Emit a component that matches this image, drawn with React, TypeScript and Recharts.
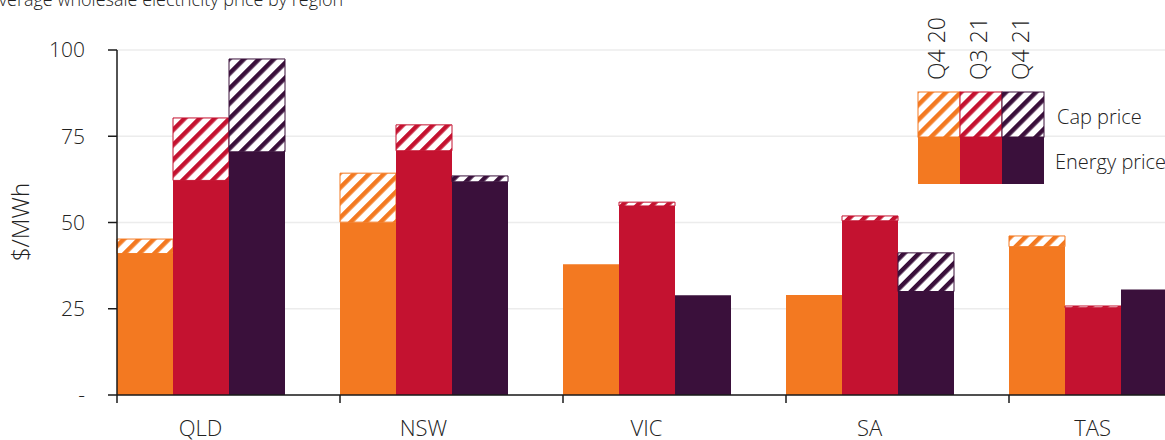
import React from 'react';
import { BarChart, Bar, XAxis, YAxis, CartesianGrid, Legend } from 'recharts';

const regions = ['QLD', 'NSW', 'VIC', 'SA', 'TAS'];
const periods = ['Q4 20', 'Q3 21', 'Q4 21'];
const energyQ420 = [41, 50.1, 37.9, 29, 43];
const capQ420 = [4.2, 14.2, 0, 0, 3.1];
const energyQ321 = [62.2, 70.8, 54.8, 50.5, 25.3];
const capQ321 = [18.1, 7.5, 1.1, 1.4, 0.5];
const energyQ421 = [70.5, 61.8, 28.9, 30, 30.6];
const capQ421 = [26.9, 1.7, 0, 11.2, 0];
const yTicks = [0, 25, 50, 75, 100];
const legendLabels = ['Cap price', 'Energy price'];
const title = 'Average wholesale electricity price by region';
const yTitle = '$/MWh';

const colors = ['#F37921', '#C41230', '#3A103B'];
const font = "'Open Sans', sans-serif";
const weight = 300;
const textColor = '#222';

const energy = [energyQ420, energyQ321, energyQ421];
const cap = [capQ420, capQ321, capQ421];

const data = regions.map((region, i) => {
  const row: Record<string, number | string> = { region };
  periods.forEach((_, k) => {
    row[`e${k}`] = energy[k][i];
    row[`c${k}`] = cap[k][i];
  });
  return row;
});

// tick mark sits at the left edge of each bar group, label in the middle
const XTick = (props: any) => {
  const { x, y, payload } = props;
  const tx = x - 83.5;
  return (
    <g>
      <line x1={tx} x2={tx} y1={y} y2={y + 8} stroke="#1a1a1a" strokeWidth={1.5} />
      <text x={x} y={y + 41} textAnchor="middle" fontSize={22} fontWeight={weight} fill={textColor} fontFamily={font}>
        {payload.value}
      </text>
    </g>
  );
};

const LegendBox = () => (
  <svg width={265} height={200}>
    {periods.map((p, k) => {
      const x = 18 + k * 42;
      return (
        <g key={p}>
          <rect x={x} y={92} width={42} height={45} fill={`url(#hatch${k})`} stroke={colors[k]} strokeWidth={1} />
          <rect x={x} y={137} width={42} height={47} fill={colors[k]} />
          <text
            x={x + 19}
            y={80}
            dy="0.35em"
            transform={`rotate(-90 ${x + 19} 80)`}
            fontSize={23}
            fontWeight={weight}
            fill={textColor}
            fontFamily={font}
          >
            {p}
          </text>
        </g>
      );
    })}
    <text x={157} y={117} dy="0.35em" fontSize={20} fontWeight={weight} fill={textColor} fontFamily={font}>{legendLabels[0]}</text>
    <text x={155} y={162} dy="0.35em" fontSize={20} fontWeight={weight} fill={textColor} fontFamily={font}>{legendLabels[1]}</text>
  </svg>
);

export default function App() {
  return (
    <div style={{ position: 'absolute', left: 0, top: 0, width: 1165, height: 440, overflow: 'hidden', background: '#fff' }}>
      <svg width={0} height={0} style={{ position: 'absolute' }}>
        <defs>
          {colors.map((c, k) => (
            <pattern key={c} id={`hatch${k}`} patternUnits="userSpaceOnUse" width={10.6} height={10.6} patternTransform="rotate(45)">
              <rect x={0} y={0} width={10.6} height={10.6} fill="#fff" />
              <rect x={0} y={0} width={4.5} height={10.6} fill={c} />
            </pattern>
          ))}
        </defs>
      </svg>
      <BarChart
        width={1210}
        height={440}
        data={data}
        margin={{ top: 50, right: 6, bottom: 0, left: 37 }}
        barCategoryGap={28}
        barGap={0}
      >
        <CartesianGrid vertical={false} stroke="#ececec" strokeWidth={1.5} />
        <XAxis
          dataKey="region"
          height={45}
          padding={{ left: -28, right: 0 }}
          tickLine={false}
          tickSize={0}
          tickMargin={0}
          axisLine={{ stroke: '#1a1a1a', strokeWidth: 1.5 }}
          tick={<XTick />}
          interval={0}
        />
        <YAxis
          width={80}
          domain={[0, 100]}
          ticks={yTicks}
          tickFormatter={(v: number) => (v === 0 ? '-' : String(v))}
          tickSize={9}
          tickMargin={23}
          tick={{ fontSize: 21, fontWeight: weight, fill: textColor, fontFamily: font }}
          tickLine={{ stroke: '#1a1a1a', strokeWidth: 1.5 }}
          axisLine={{ stroke: '#1a1a1a', strokeWidth: 1.5 }}
          label={{
            content: () => (
              <text
                x={21}
                y={222}
                dy="0.35em"
                textAnchor="middle"
                transform="rotate(-90 21 222)"
                fontSize={24}
                fontWeight={weight}
                fill={textColor}
                fontFamily={font}
              >
                {yTitle}
              </text>
            ),
          }}
        />
        <Legend
          layout="horizontal"
          verticalAlign="middle"
          align="center"
          content={<LegendBox />}
          wrapperStyle={{ left: 900, top: 0, width: 265, height: 200 }}
        />
        {periods.map((p, k) => [
          <Bar key={`e${k}`} dataKey={`e${k}`} name={`${p} energy`} stackId={`s${k}`} fill={colors[k]} isAnimationActive={false} />,
          <Bar
            key={`c${k}`}
            dataKey={`c${k}`}
            name={`${p} cap`}
            stackId={`s${k}`}
            fill={`url(#hatch${k})`}
            stroke={colors[k]}
            strokeWidth={1}
            isAnimationActive={false}
          />,
        ])}
      </BarChart>
      <svg width={600} height={20} style={{ position: 'absolute', left: 0, top: 0 }}>
        <text x={-12} y={6} fontSize={18} fontWeight={weight} fill={textColor} fontFamily={font}>{title}</text>
      </svg>
    </div>
  );
}
